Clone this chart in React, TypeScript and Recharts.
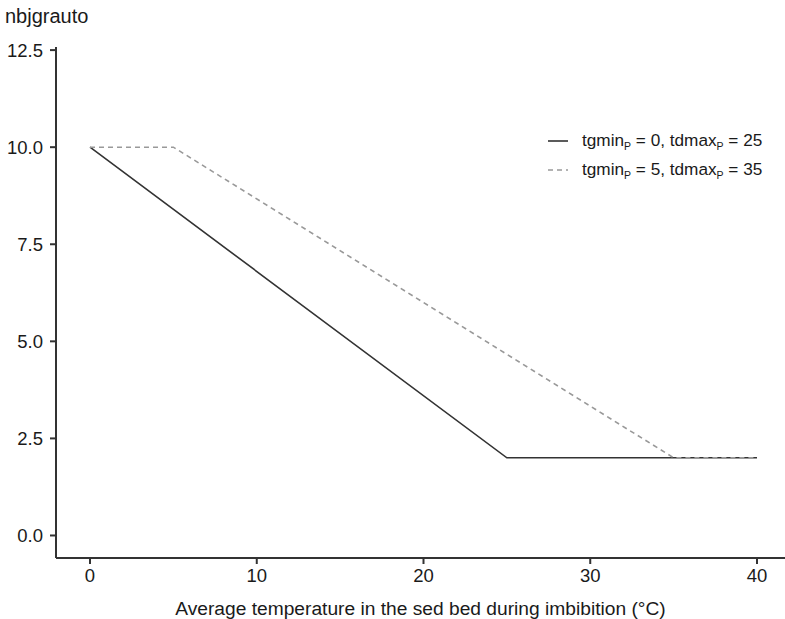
import React from 'react';
import { LineChart, Line, XAxis, YAxis, Label } from 'recharts';

const xTicks = [0, 10, 20, 30, 40];
const yTicks = [0, 2.5, 5, 7.5, 10, 12.5];

const seriesA = [
  { x: 0, y: 10 },
  { x: 25, y: 2 },
  { x: 40, y: 2 },
];
const seriesB = [
  { x: 0, y: 10 },
  { x: 5, y: 10 },
  { x: 35, y: 2 },
  { x: 40, y: 2 },
];

const legendItems = [
  { a: '0', b: '25', color: '#333333', dash: '' },
  { a: '5', b: '35', color: '#999999', dash: '5 4' },
];

const FONT = '"Liberation Sans", Arial, Helvetica, sans-serif';
const TXT = '#1a1a1a';

const subStyle: React.CSSProperties = { fontSize: 10.5, verticalAlign: '-4px', lineHeight: 0 };

const LegendBox = () => (
  <div style={{ position: 'absolute', left: 546, top: 126, fontFamily: FONT, fontSize: 17.2, color: TXT, lineHeight: '29px' }}>
    {legendItems.map((it, i) => (
      <div key={i} style={{ display: 'flex', alignItems: 'center', height: 29 }}>
        <svg width={36} height={10}>
          <line x1={2} y1={5} x2={22} y2={5} stroke={it.color} strokeWidth={1.6} strokeDasharray={it.dash} />
        </svg>
        <span style={{ whiteSpace: 'nowrap' }}>
          tgmin<sub style={subStyle}>P</sub> = {it.a}, tdmax<sub style={subStyle}>P</sub> = {it.b}
        </span>
      </div>
    ))}
  </div>
);

export default function App() {
  return (
    <div style={{ position: 'absolute', left: 0, top: 0, width: 785, height: 619, background: '#fff' }}>
      <LineChart width={785} height={619} margin={{ top: 47, right: 0, bottom: 0, left: 0 }}>
        <XAxis
          type="number"
          dataKey="x"
          domain={[-2.04, 41.68]}
          ticks={xTicks}
          allowDataOverflow
          height={61}
          tickSize={6}
          tickMargin={5}
          stroke="#333333"
          strokeWidth={2}
          tick={{ fill: TXT, fontSize: 18.5, fontFamily: FONT }}
          tickFormatter={(v: number) => String(v)}
        >
          <Label
            value="Average temperature in the sed bed during imbibition (°C)"
            position="insideBottom"
            offset={4}
            style={{ fill: TXT, fontSize: 19.2, fontFamily: FONT }}
          />
        </XAxis>
        <YAxis
          type="number"
          dataKey="y"
          domain={[-0.58, 12.58]}
          ticks={yTicks}
          allowDataOverflow
          width={56}
          tickSize={6}
          tickMargin={7}
          stroke="#333333"
          strokeWidth={2}
          tick={{ fill: TXT, fontSize: 18.5, fontFamily: FONT }}
          tickFormatter={(v: number) => v.toFixed(1)}
        >
          <Label
            content={() => (
              <text x={5} y={23} fill={TXT} fontSize={20} fontFamily={FONT}>
                nbjgrauto
              </text>
            )}
          />
        </YAxis>
        <Line
          data={seriesA}
          dataKey="y"
          type="linear"
          stroke="#333333"
          strokeWidth={1.6}
          dot={false}
          activeDot={false}
          isAnimationActive={false}
        />
        <Line
          data={seriesB}
          dataKey="y"
          type="linear"
          stroke="#999999"
          strokeWidth={1.6}
          strokeDasharray="5 4"
          dot={false}
          activeDot={false}
          isAnimationActive={false}
        />
      </LineChart>
      <LegendBox />
    </div>
  );
}
